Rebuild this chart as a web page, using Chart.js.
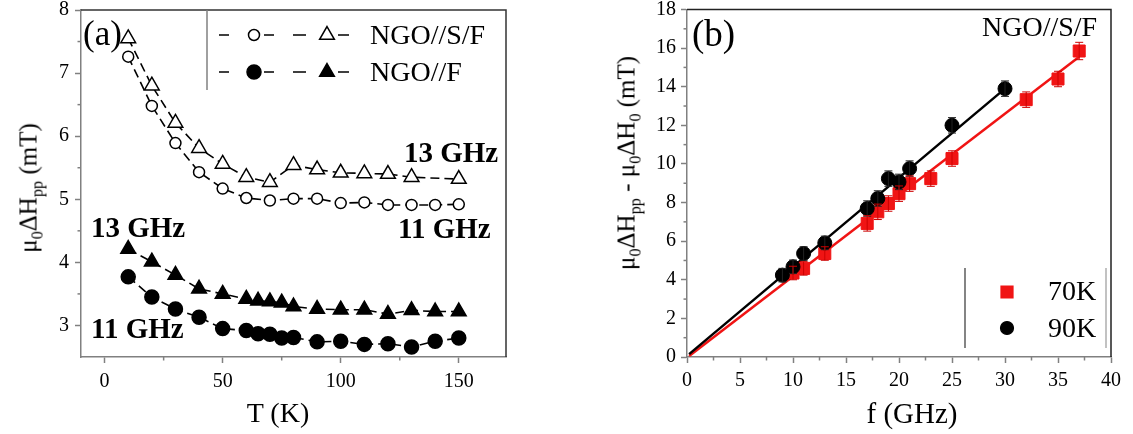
<!DOCTYPE html>
<html>
<head>
<meta charset="utf-8">
<script src="https://cdn.jsdelivr.net/npm/chart.js@4.4.1/dist/chart.umd.min.js"></script>
<style>
  html, body { margin: 0; padding: 0; background: #fff; }
  #wrap { position: relative; width: 1133px; height: 434px; overflow: hidden;
          font-family: 'Liberation Serif', 'Times New Roman', serif; color: #000; }
  .box { position: absolute; top: 0; }
  .t { position: absolute; white-space: nowrap; line-height: 1; transform: translate(0, -50%); }
  .c { transform: translate(-50%, -50%); }
  .rot { transform: translate(-50%, -50%) rotate(-90deg); }
  .b { font-weight: bold; }
  sub { font-size: 0.65em; vertical-align: -0.35em; line-height: 0; }
</style>
</head>
<body>
<div id="wrap">
  <div class="box" style="left:0"><canvas id="chartA" width="560" height="434"></canvas></div>
  <div class="box" style="left:560px"><canvas id="chartB" width="573" height="434"></canvas></div>

  <!-- panel (a) texts -->
  <div class="t" style="left:83px;top:33px;font-size:35px">(a)</div>
  <div class="t" style="left:370px;top:35px;font-size:28px">NGO//S/F</div>
  <div class="t" style="left:370px;top:72px;font-size:28px">NGO//F</div>
  <div class="t b" style="left:404px;top:152px;font-size:29px">13 GHz</div>
  <div class="t b" style="left:398px;top:228px;font-size:29px">11 GHz</div>
  <div class="t b" style="left:91px;top:227px;font-size:29px">13 GHz</div>
  <div class="t b" style="left:91px;top:328px;font-size:29px">11 GHz</div>
  <div class="t c" style="left:278px;top:413px;font-size:28px">T (K)</div>
  <div class="t rot" style="left:28px;top:188px;font-size:25px">&mu;<sub>0</sub>&Delta;H<sub>pp</sub> (mT)</div>

  <!-- panel (b) texts -->
  <div class="t" style="left:692px;top:33px;font-size:37px">(b)</div>
  <div class="t" style="left:982px;top:27px;font-size:28px">NGO//S/F</div>
  <div class="t" style="left:1048px;top:291px;font-size:28px">70K</div>
  <div class="t" style="left:1048px;top:328px;font-size:28px">90K</div>
  <div class="t c" style="left:912px;top:413px;font-size:29px">f (GHz)</div>
  <div class="t rot" style="left:626px;top:163px;font-size:25px">&mu;<sub>0</sub>&Delta;H<sub>pp</sub> - &mu;<sub>0</sub>&Delta;H<sub>0</sub> (mT)</div>
</div>

<script>
// ---- panel (a): linewidth vs temperature ----
const tSF = [10, 20, 30, 40, 50, 60, 70, 80, 90, 100, 110, 120, 130, 140, 150];
const sf11 = [7.26, 6.48, 5.89, 5.43, 5.17, 5.02, 4.98, 5.01, 5.01, 4.94, 4.95, 4.91, 4.91, 4.91, 4.92];
const sf13 = [7.55, 6.80, 6.21, 5.81, 5.56, 5.35, 5.27, 5.54, 5.47, 5.42, 5.41, 5.40, 5.35, null, 5.32];

const tF = [10, 20, 30, 40, 50, 60, 65, 70, 75, 80, 90, 100, 110, 120, 130, 140, 150];
const f11 = [3.77, 3.45, 3.26, 3.13, 2.95, 2.92, 2.87, 2.86, 2.80, 2.81, 2.74, 2.75, 2.70, 2.71, 2.66, 2.75, 2.80];
const f13 = [4.21, 4.01, 3.80, 3.58, 3.50, 3.42, 3.39, 3.38, 3.36, 3.30, 3.26, 3.25, 3.25, 3.18, 3.24, 3.22, 3.22];

// ---- panel (b): linewidth vs frequency ----
const freq70 = [10, 11, 13, 17, 18, 19, 20, 21, 23, 25, 32, 35, 37];
const dH70 = [4.35, 4.59, 5.36, 6.92, 7.52, 7.95, 8.46, 8.98, 9.24, 10.28, 13.33, 14.40, 15.85];
const err70 = [0.35, 0.35, 0.35, 0.4, 0.4, 0.4, 0.4, 0.4, 0.4, 0.4, 0.4, 0.4, 0.45];

const freq90 = [9, 10, 11, 13, 17, 18, 19, 20, 21, 25, 30];
const dH90 = [4.24, 4.67, 5.36, 5.91, 7.69, 8.21, 9.24, 9.07, 9.76, 12.00, 13.90];
const err90 = [0.35, 0.35, 0.35, 0.35, 0.4, 0.4, 0.4, 0.4, 0.4, 0.4, 0.4];

const fit70X = [0.2, 37];
const fit70Y = [0.05, 15.55];
const fit90X = [0.2, 30];
const fit90Y = [0.15, 13.9];

const serif = "'Liberation Serif', 'Times New Roman', serif";
const axisGrey = "#808080";
const red = "#f01414";

Chart.defaults.font.family = serif;
Chart.defaults.color = "#000";

const pts = (xs, ys) => xs.map((x, i) => ({ x, y: ys[i] }));

// fix the axis boxes so the plot area sits where the reference has it
function fixY(width) {
  return (s) => { s.width = width; s.paddingTop = 0; s.paddingBottom = 0; };
}
function fixX(height) {
  return (s) => { s.height = height; s.paddingLeft = 0; s.paddingRight = 0; };
}

const tickFont = { size: 20, family: serif };

function axis(min, max, step, fit, pad) {
  return {
    type: "linear",
    min, max,
    ticks: { stepSize: step, includeBounds: false, font: tickFont, color: "#000", padding: pad },
    grid: { drawOnChartArea: false, drawTicks: true, tickLength: 6, tickWidth: 1.5, tickColor: axisGrey },
    border: { display: true, color: axisGrey, width: 1.5 },
    afterFit: fit,
  };
}

// top/right frame + minor ticks
const frame = {
  id: "frame",
  afterDraw(chart, args, opts) {
    const { ctx, chartArea: a, scales } = chart;
    ctx.save();
    ctx.lineWidth = 1.5;
    ctx.strokeStyle = opts.edge;
    ctx.beginPath();
    ctx.moveTo(a.left, a.top);
    ctx.lineTo(a.right, a.top);
    ctx.lineTo(a.right, a.bottom);
    ctx.stroke();

    ctx.strokeStyle = axisGrey;
    const xs = scales.x, ys = scales.y;
    const xt = xs.ticks.map((t) => t.value);
    const dx = xt[1] - xt[0];
    for (let v = xt[0] - dx / 2; v < xs.max; v += dx) {
      if (v <= xs.min) continue;
      const px = xs.getPixelForValue(v);
      ctx.beginPath(); ctx.moveTo(px, a.bottom); ctx.lineTo(px, a.bottom + 3.5); ctx.stroke();
    }
    const yt = ys.ticks.map((t) => t.value);
    const dy = yt[1] - yt[0];
    for (let v = yt[0] - dy / 2; v < ys.max; v += dy) {
      if (v <= ys.min) continue;
      const py = ys.getPixelForValue(v);
      ctx.beginPath(); ctx.moveTo(a.left, py); ctx.lineTo(a.left - 3.5, py); ctx.stroke();
    }
    ctx.restore();
  },
};

const errorBars = {
  id: "errorBars",
  afterDatasetsDraw(chart) {
    const { ctx, scales: { x, y } } = chart;
    chart.data.datasets.forEach((ds) => {
      if (!ds.errors) return;
      ctx.save();
      ctx.strokeStyle = ds.errColor;
      ctx.lineWidth = 1;
      ds.data.forEach((p, j) => {
        const px = x.getPixelForValue(p.x);
        const top = y.getPixelForValue(p.y + ds.errors[j]);
        const bot = y.getPixelForValue(p.y - ds.errors[j]);
        ctx.beginPath();
        ctx.moveTo(px, top); ctx.lineTo(px, bot);
        ctx.moveTo(px - 4, top); ctx.lineTo(px + 4, top);
        ctx.moveTo(px - 4, bot); ctx.lineTo(px + 4, bot);
        ctx.stroke();
      });
      ctx.restore();
    });
  },
};

function sym(ctx, style, r, x, y, fill) {
  ctx.fillStyle = fill;
  Chart.helpers.drawPoint(ctx, { pointStyle: style, radius: r, rotation: 0, borderWidth: 1.5 }, x, y);
}

// legend box of panel (a)
const legendA = {
  id: "legendA",
  afterDraw(chart) {
    const { ctx } = chart;
    ctx.save();
    ctx.strokeStyle = axisGrey; ctx.lineWidth = 1.5;
    ctx.beginPath(); ctx.moveTo(207, 10); ctx.lineTo(207, 90); ctx.stroke();
    ctx.strokeStyle = "#000";
    const rows = [
      { y: 35, c: ["circle", 5.5, "#fff"], t: ["triangle", 8.5, "#fff"] },
      { y: 72, c: ["circle", 7, "#000"], t: ["triangle", 8.5, "#000"] },
    ];
    rows.forEach((r) => {
      ctx.lineWidth = 1.6;
      ctx.beginPath();
      [[219, 229], [264, 274], [293, 306], [338, 349]].forEach(([a, b]) => { ctx.moveTo(a, r.y); ctx.lineTo(b, r.y); });
      ctx.stroke();
      ctx.lineWidth = 1.5;
      sym(ctx, r.c[0], r.c[1], 254, r.y, r.c[2]);
      sym(ctx, r.t[0], r.t[1], 327, r.y, r.t[2]);
    });
    ctx.restore();
  },
};

// legend box of panel (b)
const legendB = {
  id: "legendB",
  afterDraw(chart) {
    const { ctx } = chart;
    ctx.save();
    ctx.lineWidth = 1.2;
    ctx.strokeStyle = "#333";
    ctx.beginPath(); ctx.moveTo(405, 268); ctx.lineTo(405, 348); ctx.stroke();
    ctx.strokeStyle = "#999";
    ctx.beginPath(); ctx.moveTo(546, 268); ctx.lineTo(546, 348); ctx.stroke();
    ctx.strokeStyle = red;
    sym(ctx, "rect", 8.5, 447, 292, red);
    ctx.strokeStyle = "#000";
    sym(ctx, "circle", 6.5, 447, 328, "#000");
    ctx.restore();
  },
};

function dashed(data, style, r, fill) {
  return {
    data,
    showLine: true,
    spanGaps: true,
    borderColor: "#000",
    borderWidth: 1.6,
    borderDash: [9, 5],
    pointStyle: style,
    pointRadius: r,
    pointBorderWidth: 1.5,
    pointBorderColor: "#000",
    pointBackgroundColor: fill,
  };
}

new Chart(document.getElementById("chartA"), {
  type: "scatter",
  data: {
    datasets: [
      dashed(pts(tSF, sf13), "triangle", 8.5, "#fff"),
      dashed(pts(tSF, sf11), "circle", 5.5, "#fff"),
      dashed(pts(tF, f13), "triangle", 8.5, "#000"),
      dashed(pts(tF, f11), "circle", 7, "#000"),
    ],
  },
  options: {
    responsive: false,
    animation: false,
    layout: { padding: { left: 0, right: 54, top: 8, bottom: 0 } },
    plugins: { legend: { display: false }, tooltip: { enabled: false }, frame: { edge: "#333" } },
    scales: {
      x: axis(-10, 170, 50, fixX(77), 7),
      y: axis(2.5, 8, 1, fixY(81), 6),
    },
  },
  plugins: [frame, legendA],
});

new Chart(document.getElementById("chartB"), {
  type: "scatter",
  data: {
    datasets: [
      {
        data: pts(freq90, dH90), errors: err90, errColor: "#222",
        pointStyle: "circle", pointRadius: 7, pointBackgroundColor: "#000", pointBorderColor: "#000",
        showLine: false, order: 0,
      },
      {
        data: pts(freq70, dH70), errors: err70, errColor: "#c00",
        pointStyle: "rect", pointRadius: 8.5, pointBackgroundColor: red, pointBorderColor: red,
        showLine: false, order: 1,
      },
      {
        data: pts(fit90X, fit90Y), showLine: true, borderColor: "#000", borderWidth: 2.5,
        pointRadius: 0, order: 2,
      },
      {
        data: pts(fit70X, fit70Y), showLine: true, borderColor: red, borderWidth: 2.5,
        pointRadius: 0, order: 3,
      },
    ],
  },
  options: {
    responsive: false,
    animation: false,
    layout: { padding: { left: 0, right: 22, top: 9, bottom: 0 } },
    plugins: { legend: { display: false }, tooltip: { enabled: false }, frame: { edge: "#222" } },
    scales: {
      x: axis(0, 40, 5, fixX(77), 6),
      y: axis(0, 18, 2, fixY(127), 5),
    },
  },
  plugins: [frame, errorBars, legendB],
});
</script>
</body>
</html>
